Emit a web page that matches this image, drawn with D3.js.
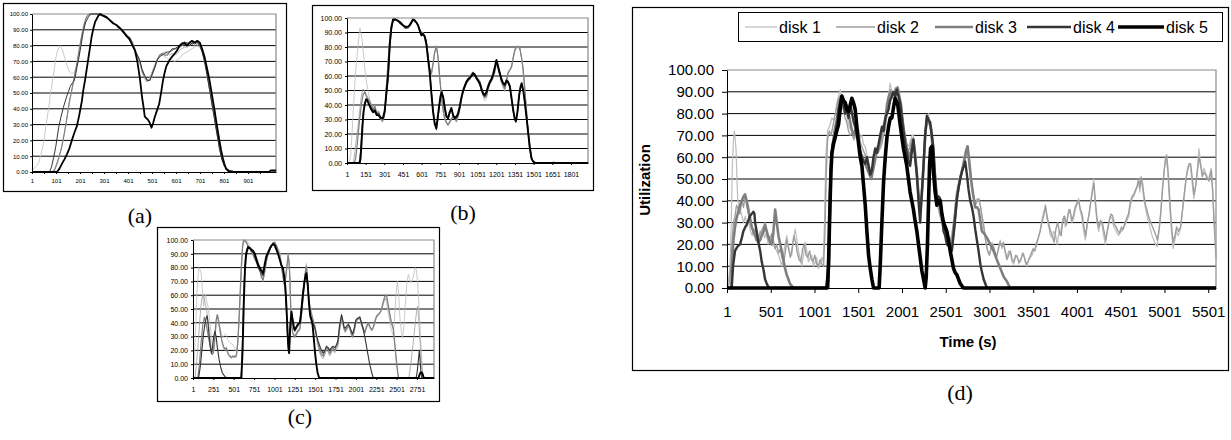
<!DOCTYPE html>
<html>
<head>
<meta charset="utf-8">
<script src="https://cdn.jsdelivr.net/npm/d3@7/dist/d3.min.js"></script>
<style>
  body { margin: 0; background: #fff; }
  svg { display: block; }
</style>
</head>
<body>
<script>
// ---- data: [time (s), utilization %] ----
var diskNames = ["disk 1", "disk 2", "disk 3", "disk 4", "disk 5"];
var yTicks = [0, 10, 20, 30, 40, 50, 60, 70, 80, 90, 100];
var aTicks = [1, 51, 101, 151, 201, 251, 301, 351, 401, 451, 501, 551, 601, 651, 701, 751, 801, 851, 901, 951];
var bTicks = [1, 151, 301, 451, 601, 751, 901, 1051, 1201, 1351, 1501, 1651, 1801];
var cTicks = [1, 251, 501, 751, 1001, 1251, 1501, 1751, 2001, 2251, 2501, 2751];
var dTicks = [1, 501, 1001, 1501, 2001, 2501, 3001, 3501, 4001, 4501, 5001, 5501];

// (a)
var aDisk1 = [[1,1],[8,2],[20,4],[29,6],[40,12],[49,18],[60,30],[70,40],[80,52],[91,62],[100,72],[108,77],[119,80],[126,78],[132,75],[140,71],[146,68],[153,65],[160,63],[167,62],[174,63],[181,64],[188,67],[195,72],[202,79],[209,86],[215,91],[222,95],[229,98],[236,100],[250,100],[265,100],[278,100],[290,99],[300,99],[313,97],[326,96],[340,94],[354,93],[368,90],[381,89],[395,86],[409,84],[420,80],[430,77],[440,74],[450,70],[460,64],[471,60],[480,57],[492,58],[503,62],[513,66],[523,70],[533,73],[543,74],[554,73],[565,72],[575,71],[585,71],[596,70],[606,71],[616,72],[626,74],[636,75],[648,76],[658,77],[668,78],[678,79],[690,80],[700,79],[710,76],[720,70],[730,62],[741,52],[752,42],[762,34],[772,24],[782,15],[792,8],[802,4],[812,2],[824,1],[840,0.5],[860,0],[1018,0]];
var aDisk2 = [[1,0],[80,0],[91,1],[100,4],[112,9],[122,14],[132,21],[143,30],[153,40],[163,49],[174,57],[184,65],[195,74],[205,84],[215,92],[225,97],[236,100],[250,100],[270,100],[290,99],[300,99],[313,98],[326,96],[340,95],[354,92],[368,90],[381,88],[395,87],[409,84],[420,81],[430,77],[440,73],[450,69],[460,63],[471,59],[480,57],[492,59],[503,64],[513,68],[523,71],[533,74],[543,75],[554,76],[565,75],[575,74],[585,75],[596,74],[606,75],[616,77],[626,78],[636,79],[648,79],[658,80],[668,81],[678,80],[690,81],[700,80],[710,77],[720,71],[730,63],[741,54],[752,44],[762,35],[772,25],[782,16],[792,9],[802,4],[812,2],[824,1],[850,0],[1018,0]];
var aDisk3 = [[1,0],[85,0],[95,1],[105,5],[115,10],[125,16],[135,24],[146,34],[156,44],[167,52],[177,60],[188,69],[198,78],[208,86],[218,93],[228,98],[240,100],[270,100],[290,99],[305,98],[320,97],[335,95],[350,93],[365,91],[381,88],[395,87],[409,85],[420,82],[430,78],[440,74],[450,70],[460,64],[471,60],[482,58],[492,58],[503,63],[513,67],[523,71],[533,74],[543,75],[554,74],[565,74],[575,76],[585,77],[596,78],[606,78],[616,79],[626,80],[636,81],[648,80],[658,82],[668,81],[678,82],[690,82],[700,81],[710,77],[720,71],[730,63],[741,53],[752,43],[762,35],[772,25],[782,16],[792,9],[802,5],[812,2],[824,1],[850,0],[1018,0]];
var aDisk4 = [[1,0],[74,0],[82,3],[91,9],[100,16],[112,28],[122,35],[132,41],[140,45],[146,48],[153,51],[160,54],[167,56],[174,57],[181,60],[188,66],[195,71],[205,80],[215,89],[225,95],[236,98],[246,100],[257,100],[280,100],[295,99],[305,98],[318,97],[330,95],[343,94],[354,93],[368,91],[381,89],[395,86],[409,83],[420,80],[430,77],[440,74],[450,71],[460,65],[471,61],[482,58],[492,58],[503,62],[513,66],[523,71],[533,73],[543,74],[554,75],[565,76],[575,76],[585,78],[596,78],[606,79],[616,80],[626,82],[636,81],[648,82],[658,80],[668,82],[678,81],[690,82],[700,80],[710,76],[720,70],[730,62],[741,52],[752,42],[762,33],[772,24],[782,15],[792,8],[802,4],[812,2],[824,1],[850,0],[1018,0]];
var aDisk5 = [[1,0],[105,0],[115,2],[125,5],[136,8],[146,11],[157,15],[167,20],[178,25],[188,29],[198,36],[209,45],[215,52],[222,58],[229,65],[236,72],[243,79],[250,86],[257,91],[264,95],[271,97],[278,99],[285,100],[298,99],[312,98],[326,96],[340,94],[354,93],[368,91],[381,89],[395,86],[409,84],[420,80],[430,77],[440,70],[450,60],[460,47],[467,40],[471,35],[478,34],[485,33],[492,31],[499,28],[506,31],[513,35],[522,39],[531,43],[540,51],[547,58],[554,63],[561,67],[568,69],[575,71],[585,73],[596,75],[606,77],[616,80],[626,81],[637,82],[647,80],[658,82],[668,83],[679,82],[690,83],[700,82],[710,78],[720,73],[730,66],[741,58],[752,48],[762,39],[772,29],[782,20],[789,14],[796,9],[803,5],[810,2],[824,0],[990,0],[995,1],[1005,1],[1018,1]];

// (b)
var bDisk1 = [[1,0],[20,1],[30,5],[40,18],[50,34],[57,44],[65,57],[75,68],[89,80],[97,88],[105,93],[113,90],[122,85],[132,76],[143,67],[153,58],[164,53],[174,48],[183,44],[195,40],[210,36],[225,38],[240,33],[255,35],[270,30],[285,28],[300,31],[310,40],[320,55],[331,68],[345,85],[358,93],[371,98],[390,99],[411,98],[430,97],[451,95],[470,93],[492,93],[505,95],[518,97],[531,99],[545,99],[558,97],[572,95],[586,92],[599,90],[612,89],[626,86],[639,80],[652,72],[666,64],[679,60],[693,68],[706,76],[720,80],[733,72],[746,58],[760,45],[773,36],[786,30],[800,27],[813,26],[826,28],[840,30],[853,32],[866,30],[880,28],[893,31],[907,36],[920,42],[934,48],[947,52],[961,55],[975,56],[990,58],[1001,60],[1015,62],[1028,60],[1041,58],[1055,57],[1068,55],[1082,50],[1095,46],[1108,43],[1122,44],[1135,50],[1149,54],[1162,56],[1175,58],[1189,62],[1202,68],[1215,64],[1229,60],[1242,55],[1256,52],[1269,49],[1283,55],[1296,62],[1310,64],[1323,66],[1336,72],[1350,77],[1363,79],[1376,80],[1390,79],[1403,74],[1416,66],[1430,52],[1443,38],[1457,22],[1470,10],[1484,3],[1497,1],[1510,0.5],[1530,0],[1650,0],[1655,1],[1665,1],[1670,0],[1938,0]];
var bDisk2 = [[1,0],[45,0],[55,2],[65,8],[75,16],[89,25],[100,34],[116,46],[130,51],[143,50],[157,47],[170,45],[183,42],[195,41],[210,38],[225,40],[240,35],[255,36],[270,32],[285,30],[300,33],[310,42],[320,57],[331,70],[345,86],[358,94],[371,98],[390,99],[411,98],[430,96],[451,94],[470,93],[492,94],[505,96],[518,98],[531,99],[545,98],[558,97],[572,95],[586,91],[599,90],[612,90],[626,87],[639,82],[652,73],[666,65],[679,61],[693,68],[706,76],[720,81],[733,73],[746,60],[760,46],[773,36],[786,31],[800,28],[813,27],[826,29],[840,31],[853,33],[866,31],[880,30],[893,33],[907,38],[920,45],[934,50],[947,54],[961,57],[975,58],[990,60],[1001,62],[1015,63],[1028,61],[1041,59],[1055,58],[1068,57],[1082,53],[1095,48],[1108,46],[1122,47],[1135,52],[1149,55],[1162,57],[1175,60],[1189,64],[1202,71],[1215,66],[1229,62],[1242,57],[1256,54],[1269,52],[1283,58],[1296,63],[1310,65],[1323,67],[1336,73],[1350,78],[1363,80],[1376,81],[1390,79],[1403,73],[1416,64],[1430,50],[1443,36],[1457,21],[1470,9],[1484,3],[1497,1],[1520,0],[1938,0]];
var bDisk3 = [[1,0],[60,0],[70,3],[80,10],[89,18],[100,28],[116,40],[130,47],[143,49],[157,46],[170,44],[183,43],[195,40],[210,37],[225,39],[240,34],[255,35],[270,31],[285,29],[300,32],[310,41],[320,56],[331,69],[345,86],[358,94],[371,98],[390,99],[411,98],[430,96],[451,95],[470,93],[492,93],[505,95],[518,97],[531,99],[545,98],[558,97],[572,95],[586,92],[599,89],[612,90],[626,87],[639,83],[652,74],[666,65],[679,62],[693,69],[706,77],[720,80],[733,73],[746,59],[760,46],[773,37],[786,31],[800,28],[813,26],[826,28],[840,30],[853,32],[866,31],[880,29],[893,32],[907,37],[920,44],[934,49],[947,53],[961,56],[975,58],[990,59],[1001,61],[1015,62],[1028,61],[1041,59],[1055,57],[1068,56],[1082,52],[1095,47],[1108,45],[1122,46],[1135,51],[1149,55],[1162,57],[1175,59],[1189,63],[1202,70],[1215,65],[1229,61],[1242,56],[1256,53],[1269,51],[1283,57],[1296,62],[1310,64],[1323,66],[1336,72],[1350,78],[1363,80],[1376,80],[1390,79],[1403,73],[1416,65],[1430,51],[1443,37],[1457,21],[1470,9],[1484,3],[1497,1],[1520,0],[1938,0]];
var bDisk4 = [[1,0],[95,0],[103,2],[112,10],[120,22],[130,33],[140,40],[150,43],[160,44],[170,42],[183,40],[195,38],[210,36],[225,37],[240,34],[255,34],[270,32],[290,30],[304,34],[316,45],[331,58],[345,80],[358,92],[371,98],[390,99],[411,98],[430,96],[451,95],[470,93],[492,94],[505,95],[518,96],[531,99],[545,99],[558,97],[572,95],[586,92],[599,90],[612,88],[626,88],[639,84],[652,74],[666,64],[679,50],[693,37],[706,28],[720,23],[730,29],[741,37],[752,44],[760,48],[773,46],[786,40],[800,33],[813,30],[826,34],[840,37],[853,34],[866,30],[880,31],[893,33],[907,38],[920,44],[934,49],[947,52],[961,55],[975,57],[990,58],[1001,60],[1015,61],[1028,60],[1041,58],[1055,56],[1068,54],[1082,50],[1095,47],[1108,46],[1122,48],[1135,52],[1149,55],[1162,57],[1175,60],[1189,65],[1202,70],[1215,66],[1229,61],[1242,57],[1256,55],[1269,53],[1283,56],[1296,55],[1310,52],[1323,44],[1336,36],[1350,30],[1358,28],[1370,34],[1383,45],[1395,52],[1403,54],[1416,50],[1430,42],[1443,33],[1457,22],[1470,12],[1484,4],[1497,1],[1520,0],[1938,0]];
var bDisk5 = [[1,0],[103,0],[110,3],[118,14],[126,26],[135,36],[145,41],[155,44],[165,43],[175,41],[185,39],[195,37],[210,35],[225,36],[240,33],[255,33],[270,31],[290,31],[304,36],[316,47],[331,60],[345,82],[358,94],[371,99],[390,99],[411,98],[430,97],[451,95],[470,94],[492,94],[505,95],[518,97],[531,99],[545,98],[558,97],[572,95],[586,91],[599,88],[612,89],[626,87],[639,82],[652,72],[666,62],[679,48],[693,35],[706,27],[718,24],[728,30],[741,39],[752,46],[762,49],[775,45],[786,38],[800,32],[813,31],[826,35],[840,38],[853,33],[866,31],[880,32],[893,34],[907,39],[920,45],[934,50],[947,53],[961,56],[975,58],[990,59],[1001,60],[1015,62],[1028,61],[1041,59],[1055,57],[1068,55],[1082,51],[1095,48],[1108,47],[1122,49],[1135,53],[1149,56],[1162,58],[1175,61],[1189,66],[1202,71],[1215,67],[1229,62],[1242,58],[1256,55],[1269,54],[1283,57],[1296,56],[1310,53],[1323,45],[1336,37],[1350,30],[1360,29],[1372,36],[1385,47],[1397,53],[1405,55],[1418,50],[1430,42],[1443,32],[1457,21],[1470,11],[1484,3],[1497,1],[1520,0],[1938,0]];

// (c)
var cDisk1 = [[1,0],[15,10],[34,38],[50,62],[65,75],[75,80],[90,78],[103,75],[115,65],[132,52],[145,58],[157,60],[170,55],[185,52],[205,42],[226,31],[245,22],[259,19],[275,30],[290,43],[300,46],[315,42],[329,38],[345,33],[360,30],[370,29],[385,31],[400,32],[411,31],[425,28],[440,27],[452,26],[470,25],[493,24],[510,22],[534,19],[550,26],[565,38],[575,50],[590,70],[605,88],[616,99],[640,100],[665,100],[680,98],[698,96],[720,93],[740,90],[760,88],[780,87],[800,85],[820,80],[840,75],[861,70],[880,78],[900,85],[923,90],[945,94],[965,96],[985,98],[1005,98],[1025,96],[1045,94],[1065,92],[1085,85],[1107,75],[1120,70],[1135,72],[1150,80],[1169,90],[1180,85],[1190,75],[1200,55],[1210,40],[1225,33],[1240,31],[1251,30],[1270,34],[1290,35],[1313,36],[1330,45],[1350,58],[1370,72],[1385,80],[1394,83],[1410,70],[1425,58],[1440,52],[1456,48],[1470,44],[1497,38],[1520,31],[1540,27],[1558,24],[1580,18],[1599,15],[1620,18],[1640,22],[1660,20],[1680,17],[1700,19],[1720,20],[1743,18],[1760,22],[1780,24],[1800,35],[1825,44],[1840,40],[1855,36],[1870,34],[1890,37],[1910,38],[1927,36],[1945,33],[1960,30],[1980,34],[2000,40],[2020,44],[2050,45],[2070,40],[2090,37],[2110,33],[2130,38],[2153,40],[2175,37],[2195,35],[2215,37],[2235,42],[2255,45],[2275,46],[2300,48],[2316,50],[2335,54],[2355,58],[2378,55],[2395,48],[2415,42],[2435,35],[2460,31],[2475,42],[2490,58],[2509,70],[2525,62],[2540,45],[2560,33],[2575,29],[2590,38],[2610,55],[2630,70],[2645,75],[2660,72],[2675,69],[2686,70],[2700,72],[2715,76],[2730,80],[2745,78],[2760,68],[2775,52],[2790,35],[2805,18],[2820,5],[2830,0],[2960,0]];
var cDisk2 = [[1,0],[25,0],[40,8],[60,22],[80,38],[95,50],[110,58],[125,60],[140,57],[157,52],[170,48],[185,42],[205,33],[220,24],[235,20],[250,18],[265,25],[285,40],[300,45],[315,40],[329,35],[345,30],[360,25],[375,22],[390,20],[411,21],[425,18],[440,16],[455,15],[470,14],[490,15],[510,16],[534,15],[550,24],[565,40],[580,60],[595,80],[610,95],[625,99],[645,100],[665,98],[680,96],[698,95],[720,92],[740,90],[760,87],[780,85],[800,84],[820,80],[840,74],[861,71],[880,77],[900,84],[923,89],[945,93],[965,95],[985,97],[1005,99],[1025,96],[1045,93],[1065,90],[1085,82],[1107,74],[1120,68],[1135,70],[1150,78],[1169,88],[1180,84],[1190,72],[1200,52],[1210,38],[1225,32],[1240,30],[1251,29],[1270,31],[1290,33],[1313,35],[1330,43],[1350,56],[1370,70],[1385,78],[1394,80],[1410,68],[1425,55],[1440,49],[1456,45],[1470,42],[1497,36],[1520,28],[1540,22],[1558,18],[1580,15],[1599,14],[1620,17],[1640,20],[1660,19],[1680,16],[1700,18],[1720,21],[1743,19],[1760,21],[1780,22],[1800,33],[1825,43],[1840,39],[1855,35],[1870,33],[1890,35],[1910,37],[1927,35],[1945,31],[1960,29],[1980,33],[2000,39],[2020,42],[2050,43],[2070,38],[2090,35],[2110,32],[2130,36],[2153,39],[2175,36],[2195,34],[2215,36],[2235,40],[2255,44],[2275,45],[2300,47],[2316,49],[2335,53],[2355,57],[2378,58],[2395,52],[2415,46],[2435,40],[2460,35],[2480,22],[2500,10],[2515,3],[2525,0],[2650,0],[2670,8],[2690,18],[2710,28],[2730,40],[2750,50],[2760,52],[2770,45],[2785,30],[2800,15],[2815,5],[2825,0],[2960,0]];
var cDisk3 = [[1,0],[60,0],[80,10],[100,25],[120,38],[140,44],[160,40],[175,35],[190,30],[205,25],[220,20],[235,17],[250,18],[265,28],[285,42],[300,46],[315,42],[329,36],[345,30],[360,26],[375,23],[390,21],[411,22],[425,19],[440,17],[455,16],[470,15],[490,16],[510,15],[534,17],[550,25],[565,42],[580,62],[595,82],[610,96],[625,100],[645,99],[665,97],[680,95],[698,94],[720,91],[740,89],[760,86],[780,84],[800,83],[820,79],[840,73],[861,71],[880,76],[900,84],[923,90],[945,94],[965,96],[985,97],[1005,98],[1025,96],[1045,92],[1065,89],[1085,81],[1107,73],[1120,68],[1135,71],[1150,79],[1169,89],[1180,84],[1190,73],[1200,53],[1210,39],[1225,33],[1240,31],[1251,30],[1270,32],[1290,34],[1313,36],[1330,44],[1350,57],[1370,71],[1385,79],[1394,81],[1410,69],[1425,56],[1440,50],[1456,46],[1470,43],[1497,38],[1520,30],[1540,24],[1558,20],[1580,17],[1599,16],[1620,19],[1640,22],[1660,21],[1680,18],[1700,20],[1720,22],[1743,20],[1760,23],[1780,25],[1800,36],[1825,45],[1840,41],[1855,36],[1870,34],[1890,36],[1910,38],[1927,36],[1945,32],[1960,30],[1980,35],[2000,41],[2020,43],[2050,44],[2070,39],[2090,36],[2110,33],[2130,37],[2153,40],[2175,37],[2195,35],[2215,37],[2235,41],[2255,45],[2275,46],[2300,48],[2316,50],[2335,55],[2355,59],[2378,60],[2395,54],[2415,47],[2435,41],[2460,36],[2480,24],[2500,12],[2515,4],[2525,0],[2960,0]];
var cDisk4 = [[1,0],[70,0],[90,8],[110,20],[130,32],[150,40],[165,44],[175,45],[185,40],[200,30],[215,22],[226,18],[240,22],[255,30],[270,34],[285,30],[300,22],[320,14],[340,8],[360,4],[380,2],[411,0],[590,0],[600,10],[615,40],[630,70],[645,88],[660,93],[677,95],[700,94],[720,92],[740,91],[760,88],[780,84],[800,80],[820,78],[840,76],[861,74],[880,80],[900,87],[923,90],[945,93],[965,96],[985,98],[1005,97],[1025,94],[1045,90],[1065,86],[1085,82],[1107,78],[1120,72],[1135,62],[1150,45],[1165,25],[1181,18],[1195,35],[1210,46],[1225,40],[1240,35],[1251,34],[1270,36],[1290,38],[1313,40],[1330,50],[1350,62],[1370,70],[1385,74],[1394,75],[1410,68],[1425,55],[1440,46],[1456,42],[1470,40],[1497,36],[1520,30],[1540,26],[1558,23],[1580,20],[1599,18],[1620,20],[1640,23],[1660,22],[1680,20],[1700,22],[1720,23],[1743,22],[1760,24],[1780,27],[1800,38],[1825,46],[1840,42],[1855,37],[1870,36],[1890,38],[1910,39],[1927,37],[1945,34],[1960,32],[1980,36],[2000,42],[2020,43],[2050,44],[2080,38],[2110,30],[2140,20],[2170,10],[2195,4],[2214,0],[2740,0],[2755,5],[2770,14],[2780,20],[2790,12],[2800,4],[2810,0],[2960,0]];
var cDisk5 = [[1,0],[595,0],[610,20],[625,55],[640,80],[655,90],[677,95],[700,94],[720,93],[740,92],[760,90],[780,86],[800,82],[820,80],[840,78],[861,76],[880,82],[900,88],[923,91],[945,94],[965,96],[985,97],[1005,96],[1025,93],[1045,90],[1065,86],[1085,82],[1107,79],[1120,74],[1135,66],[1150,50],[1165,30],[1175,20],[1181,18],[1195,38],[1210,48],[1225,42],[1240,37],[1251,35],[1270,37],[1290,39],[1313,40],[1330,48],[1350,60],[1370,70],[1385,75],[1394,76],[1410,67],[1425,54],[1440,45],[1456,42],[1470,38],[1485,28],[1500,18],[1515,10],[1530,4],[1550,0],[2770,0],[2780,2],[2795,4],[2810,4],[2825,2],[2835,0],[2960,0]];

// (d)
var dDisk1 = [[1,1],[20,4],[36,10],[50,30],[62,56],[75,68],[85,72],[95,68],[104,64],[115,50],[123,41],[135,38],[150,36],[165,34],[177,32],[190,30],[210,33],[230,28],[250,31],[270,26],[290,24],[310,27],[330,22],[350,25],[370,20],[390,26],[410,28],[430,23],[450,25],[470,20],[490,24],[513,23],[540,19],[570,17],[600,14],[627,10],[650,16],[665,20],[684,24],[700,20],[720,16],[741,15],[760,22],[780,27],[800,22],[818,17],[835,14],[856,10],[875,15],[894,21],[912,17],[932,12],[950,14],[970,15],[990,10],[1008,12],[1025,14],[1046,9],[1065,11],[1085,14],[1100,12],[1115,30],[1130,60],[1150,72],[1180,75],[1200,78],[1218,77],[1240,80],[1257,85],[1275,88],[1295,91],[1315,87],[1333,85],[1350,80],[1371,79],[1390,75],[1410,73],[1428,72],[1450,70],[1470,74],[1490,72],[1505,73],[1525,69],[1543,70],[1560,66],[1581,65],[1600,61],[1619,58],[1640,55],[1657,52],[1675,56],[1695,62],[1715,65],[1733,64],[1752,66],[1772,68],[1790,72],[1810,75],[1830,82],[1848,88],[1865,94],[1885,90],[1903,88],[1925,92],[1945,91],[1961,92],[1980,86],[2000,81],[2018,76],[2037,70],[2060,66],[2080,65],[2094,67],[2115,70],[2132,70],[2150,62],[2171,52],[2190,44],[2209,37],[2228,45],[2247,60],[2265,72],[2285,78],[2305,80],[2323,73],[2340,65],[2361,56],[2380,48],[2400,41],[2420,36],[2440,33],[2457,30],[2480,27],[2500,24],[2514,23],[2540,20],[2571,22],[2600,32],[2621,44],[2645,48],[2667,52],[2690,56],[2710,60],[2724,63],[2740,65],[2751,62],[2770,55],[2790,48],[2810,42],[2838,38],[2857,41],[2876,40],[2896,38],[2915,33],[2934,29],[2955,22],[2972,18],[2990,16],[3010,17],[3030,21],[3048,19],[3068,16],[3086,15],[3105,19],[3125,22],[3145,18],[3163,20],[3182,16],[3201,14],[3220,17],[3239,16],[3258,12],[3277,11],[3296,14],[3315,15],[3335,11],[3353,12],[3372,15],[3391,16],[3410,12],[3430,10],[3450,13],[3468,14],[3487,15],[3506,17],[3525,18],[3544,20],[3563,24],[3582,27],[3600,31],[3620,35],[3640,37],[3660,31],[3678,28],[3697,24],[3716,23],[3735,26],[3754,25],[3775,20],[3796,26],[3810,24],[3830,30],[3849,33],[3868,28],[3887,30],[3906,36],[3925,35],[3944,30],[3963,32],[3982,36],[4001,38],[4020,41],[4040,35],[4058,32],[4078,26],[4097,22],[4116,28],[4135,33],[4154,38],[4173,44],[4192,50],[4211,38],[4230,30],[4249,26],[4268,30],[4287,29],[4306,24],[4325,20],[4345,25],[4364,29],[4383,33],[4402,32],[4421,28],[4440,27],[4459,25],[4478,24],[4497,27],[4516,26],[4535,28],[4554,29],[4573,31],[4593,33],[4612,38],[4631,41],[4650,42],[4669,44],[4688,46],[4707,49],[4720,44],[4734,50],[4750,46],[4764,41],[4783,37],[4802,33],[4821,30],[4841,27],[4860,24],[4879,22],[4898,20],[4917,19],[4936,25],[4955,33],[4975,44],[4993,52],[5010,58],[5020,60],[5039,53],[5055,42],[5070,32],[5085,24],[5100,18],[5120,22],[5138,26],[5160,24],[5184,27],[5203,34],[5222,41],[5241,48],[5260,53],[5280,56],[5298,56],[5318,48],[5337,41],[5356,46],[5375,53],[5394,64],[5413,58],[5432,52],[5451,55],[5470,53],[5490,51],[5508,50],[5522,53],[5535,55],[5550,46],[5566,33],[5580,24],[5590,17]];
var dDisk2 = [[1,0],[25,2],[45,10],[60,22],[75,30],[93,33],[110,38],[131,36],[150,34],[169,40],[190,37],[207,42],[226,38],[245,34],[265,30],[284,28],[303,25],[322,27],[340,23],[360,22],[380,26],[398,25],[420,28],[436,30],[455,26],[474,24],[495,22],[513,25],[535,21],[551,18],[570,20],[589,16],[610,18],[627,14],[650,12],[670,17],[684,22],[705,18],[725,14],[745,18],[765,24],[785,21],[805,16],[825,13],[845,12],[865,18],[885,20],[905,15],[925,14],[945,17],[965,13],[985,12],[1005,15],[1025,11],[1045,10],[1065,13],[1085,11],[1105,10],[1120,25],[1135,52],[1150,68],[1170,72],[1190,70],[1210,74],[1230,78],[1250,82],[1270,86],[1290,88],[1310,84],[1330,82],[1350,78],[1370,76],[1390,72],[1410,70],[1430,71],[1450,68],[1470,70],[1490,68],[1510,70],[1530,66],[1550,64],[1570,62],[1590,60],[1610,57],[1630,54],[1650,52],[1670,55],[1690,60],[1710,63],[1730,62],[1750,64],[1770,66],[1790,70],[1810,73],[1830,80],[1850,86],[1870,91],[1890,88],[1910,86],[1930,89],[1950,90],[1970,87],[1990,82],[2010,77],[2030,71],[2050,67],[2070,63],[2090,64],[2110,68],[2130,69],[2150,61],[2170,50],[2190,42],[2210,36],[2230,42],[2250,58],[2270,70],[2290,76],[2310,78],[2330,72],[2350,62],[2370,52],[2390,44],[2410,38],[2430,34],[2450,31],[2470,28],[2490,25],[2510,22],[2540,21],[2570,24],[2600,34],[2620,42],[2645,46],[2670,50],[2690,54],[2710,58],[2730,61],[2750,64],[2770,57],[2790,50],[2810,44],[2840,38],[2860,40],[2880,41],[2900,37],[2920,32],[2940,27],[2960,21],[2980,17],[3000,15],[3020,18],[3040,20],[3060,17],[3080,14],[3100,17],[3120,21],[3140,19],[3160,21],[3180,17],[3200,13],[3220,15],[3240,17],[3260,13],[3280,12],[3300,15],[3320,14],[3340,12],[3360,13],[3380,16],[3400,14],[3420,11],[3440,12],[3460,14],[3480,16],[3500,18],[3520,17],[3540,21],[3560,23],[3580,26],[3600,30],[3620,33],[3640,38],[3660,33],[3680,29],[3700,26],[3720,24],[3740,21],[3760,27],[3780,30],[3800,26],[3820,24],[3840,31],[3860,33],[3880,29],[3900,34],[3920,36],[3940,31],[3960,33],[3980,37],[4000,39],[4020,40],[4040,36],[4060,34],[4080,28],[4100,24],[4120,30],[4140,34],[4160,40],[4180,45],[4195,48],[4210,40],[4230,32],[4250,28],[4270,31],[4290,30],[4310,26],[4330,22],[4350,27],[4370,31],[4390,34],[4410,33],[4430,29],[4450,28],[4470,26],[4490,25],[4510,28],[4530,27],[4550,30],[4570,32],[4590,34],[4610,39],[4630,42],[4650,43],[4670,45],[4690,47],[4705,50],[4720,46],[4735,51],[4750,48],[4765,43],[4785,38],[4805,35],[4825,32],[4845,30],[4865,28],[4885,26],[4905,24],[4920,22],[4940,27],[4960,35],[4980,46],[4995,53],[5012,59],[5025,61],[5040,55],[5055,45],[5070,35],[5085,27],[5100,21],[5120,24],[5140,28],[5160,26],[5185,28],[5205,35],[5225,42],[5245,49],[5262,54],[5282,57],[5300,57],[5320,50],[5338,43],[5358,47],[5378,54],[5396,60],[5415,56],[5434,51],[5452,53],[5472,52],[5490,50],[5510,49],[5525,52],[5537,54],[5552,44],[5568,30],[5582,20],[5590,14]];
var dDisk3 = [[1,0],[50,0],[60,12],[75,22],[93,28],[110,32],[131,35],[150,38],[169,40],[190,42],[207,43],[226,40],[245,36],[265,32],[284,28],[303,26],[322,24],[340,22],[360,21],[380,22],[398,24],[420,26],[436,29],[455,26],[474,23],[495,21],[513,20],[530,25],[551,36],[570,30],[589,24],[610,20],[627,17],[650,12],[665,9],[684,6],[703,4],[720,2],[741,1],[760,0],[1145,0],[1160,15],[1175,40],[1190,58],[1210,66],[1230,72],[1250,76],[1270,80],[1290,86],[1310,88],[1330,85],[1350,82],[1370,84],[1390,80],[1410,76],[1430,72],[1450,70],[1470,73],[1490,70],[1510,66],[1530,62],[1550,60],[1570,58],[1590,56],[1610,54],[1630,52],[1650,50],[1670,54],[1690,58],[1710,62],[1730,64],[1750,67],[1770,72],[1790,74],[1810,77],[1830,84],[1850,88],[1870,90],[1890,88],[1910,89],[1930,91],[1950,92],[1970,88],[1990,84],[2010,76],[2030,70],[2050,65],[2070,62],[2090,60],[2110,64],[2130,68],[2150,62],[2170,53],[2190,43],[2210,35],[2230,44],[2250,58],[2270,72],[2290,78],[2310,76],[2330,74],[2350,67],[2370,56],[2390,46],[2410,40],[2430,41],[2450,36],[2470,30],[2490,26],[2510,22],[2540,19],[2570,18],[2600,30],[2629,41],[2650,47],[2670,51],[2690,54],[2710,58],[2730,62],[2751,65],[2770,58],[2790,50],[2810,44],[2838,37],[2860,37],[2876,36],[2900,30],[2915,26],[2940,25],[2972,23],[3010,20],[3048,17],[3085,13],[3125,9],[3165,5],[3201,3],[3225,1],[3239,0],[5590,0]];
var dDisk4 = [[1,0],[55,0],[70,10],[93,17],[120,19],[150,20],[170,23],[188,26],[210,28],[226,29],[245,31],[265,33],[284,34],[303,35],[315,34],[322,30],[340,26],[360,21],[380,17],[398,12],[420,8],[436,4],[455,2],[474,0.5],[490,0],[1160,0],[1175,30],[1190,55],[1210,66],[1237,70],[1260,76],[1276,82],[1300,86],[1314,88],[1335,84],[1352,80],[1371,82],[1390,78],[1409,85],[1430,80],[1450,76],[1466,74],[1485,70],[1505,67],[1525,62],[1543,60],[1560,58],[1581,57],[1600,60],[1619,56],[1640,52],[1657,54],[1675,60],[1695,64],[1715,62],[1733,66],[1752,70],[1772,74],[1790,72],[1810,78],[1830,80],[1848,82],[1865,86],[1885,88],[1903,90],[1925,88],[1942,91],[1960,88],[1980,85],[2000,78],[2018,72],[2037,66],[2056,62],[2075,58],[2094,56],[2115,63],[2132,68],[2150,60],[2171,52],[2190,40],[2209,30],[2228,44],[2247,56],[2265,70],[2285,79],[2305,77],[2323,76],[2342,70],[2361,64],[2380,50],[2400,38],[2420,42],[2438,41],[2457,34],[2476,26],[2495,24],[2514,20],[2540,19],[2571,17],[2600,28],[2629,41],[2648,46],[2667,50],[2690,54],[2710,56],[2724,58],[2743,52],[2762,45],[2781,40],[2800,37],[2819,33],[2838,27],[2857,22],[2876,17],[2900,10],[2934,4],[2972,0],[5590,0]];
var dDisk5 = [[1,0],[1142,0],[1152,4],[1161,10],[1170,25],[1180,41],[1190,54],[1200,62],[1218,66],[1237,69],[1255,72],[1276,75],[1295,82],[1314,88],[1333,86],[1352,85],[1370,82],[1390,81],[1410,84],[1428,87],[1447,85],[1466,82],[1485,74],[1505,66],[1524,60],[1543,56],[1562,47],[1581,38],[1600,26],[1619,15],[1638,9],[1657,4],[1676,0],[1740,0],[1752,10],[1771,30],[1791,49],[1810,60],[1829,69],[1848,74],[1867,78],[1885,78],[1905,83],[1923,87],[1935,86],[1949,85],[1965,80],[1980,75],[2000,69],[2018,64],[2037,60],[2056,56],[2075,50],[2094,44],[2113,40],[2132,36],[2150,31],[2171,26],[2190,20],[2209,14],[2228,8],[2247,4],[2266,0],[2278,5],[2292,20],[2305,40],[2316,56],[2328,64],[2342,65],[2352,60],[2361,53],[2380,44],[2400,38],[2420,40],[2438,40],[2457,34],[2476,30],[2495,28],[2514,26],[2533,22],[2552,17],[2571,13],[2590,9],[2610,7],[2629,6],[2648,4],[2667,2],[2685,1],[2705,0],[5590,0]];

// ---- drawing ----
var width = 1231, height = 440;
var sans = "'Liberation Sans', Arial, sans-serif";
var serif = "'Liberation Serif', 'Times New Roman', serif";
var colors = ["#bdbdbd", "#9e9e9e", "#7f7f7f", "#353535", "#000000"];

var svg = d3.select("body").append("svg")
    .attr("width", width)
    .attr("height", height);

svg.append("rect").attr("width", width).attr("height", height).attr("fill", "#fff");

var panels = [
  {box: [3, 3, 286, 191], plot: [32, 14, 276, 172], xMax: 1018, ticks: aTicks, labelStep: 100,
   font: 6, tick: 2, xPad: 5, yPad: 2, series: [aDisk1, aDisk2, aDisk3, aDisk4, aDisk5],
   widths: [0.8, 0.8, 1.1, 1.0, 1.8], caption: "(a)", cap: [140, 223]},
  {box: [312, 5, 593, 190], plot: [347, 18, 588, 163], xMax: 1938, ticks: bTicks, labelStep: 150,
   font: 7, tick: 2, xPad: 7, yPad: 3, series: [bDisk1, bDisk2, bDisk3, bDisk4, bDisk5],
   widths: [0.8, 0.8, 1.2, 1.1, 1.9], caption: "(b)", cap: [463, 220]},
  {box: [157, 227, 439, 401], plot: [193, 240, 434, 378], xMax: 2960, ticks: cTicks, labelStep: 250,
   font: 7, tick: 2, xPad: 7, yPad: 3, series: [cDisk1, cDisk2, cDisk3, cDisk4, cDisk5],
   widths: [0.8, 0.8, 1.2, 1.1, 1.9], caption: "(c)", cap: [300, 424]},
  {box: [632, 7, 1228, 370], plot: [727, 70, 1216, 288], xMax: 5590, ticks: dTicks, labelStep: 500,
   font: 15, tick: 5, xPad: 13, yPad: 8, series: [dDisk1, dDisk2, dDisk3, dDisk4, dDisk5],
   widths: [1.2, 1.4, 2.6, 2.4, 3.6], caption: "(d)", cap: [960, 400]}
];

panels.forEach(function(p) {
  var x0 = p.plot[0], y0 = p.plot[1], x1 = p.plot[2], y1 = p.plot[3];

  // outer frame
  svg.append("rect")
      .attr("x", p.box[0] + 0.5).attr("y", p.box[1] + 0.5)
      .attr("width", p.box[2] - p.box[0]).attr("height", p.box[3] - p.box[1])
      .attr("fill", "#fff").attr("stroke", "#000").attr("stroke-width", 1.2);

  var x = d3.scaleLinear().domain([1, p.xMax]).range([x0, x1]);
  var y = d3.scaleLinear().domain([0, 100]).range([y1, y0]);

  var g = svg.append("g");

  // gridlines
  g.selectAll(".grid")
      .data(yTicks.filter(function(v) { return v > 0 && v < 100; }))
    .enter().append("line")
      .attr("x1", x0).attr("x2", x1)
      .attr("y1", function(v) { return y(v); })
      .attr("y2", function(v) { return y(v); })
      .attr("stroke", "#000").attr("stroke-width", 1);

  // plot area top / right border
  g.append("path")
      .attr("d", "M" + x0 + "," + y(100) + "H" + x1 + "V" + y(0))
      .attr("fill", "none").attr("stroke", "#8a8a8a").attr("stroke-width", 1.2);

  // series
  var line = d3.line()
      .x(function(d) { return x(d[0]); })
      .y(function(d) { return y(d[1]); });

  p.series.forEach(function(s, i) {
    g.append("path")
        .datum(s)
        .attr("fill", "none")
        .attr("stroke", colors[i])
        .attr("stroke-width", p.widths[i])
        .attr("stroke-linejoin", "round")
        .attr("d", line);
  });

  // y axis
  var yAxis = g.append("g")
      .attr("transform", "translate(" + x0 + ",0)")
      .call(d3.axisLeft(y).tickValues(yTicks).tickFormat(d3.format(".2f"))
        .tickSize(p.tick).tickPadding(p.yPad).tickSizeOuter(0));
  yAxis.selectAll("text").attr("font-family", sans).attr("font-size", p.font).attr("fill", "#000");

  // x axis
  var xAxis = g.append("g")
      .attr("transform", "translate(0," + y1 + ")")
      .call(d3.axisBottom(x).tickValues(p.ticks)
        .tickFormat(function(d) { return (d - 1) % p.labelStep === 0 ? d : ""; })
        .tickSize(p.tick).tickPadding(p.xPad).tickSizeOuter(0));
  xAxis.selectAll("text").attr("font-family", sans).attr("font-size", p.font).attr("fill", "#000");
  g.selectAll(".domain").attr("stroke", "#000");
  g.selectAll(".tick line").attr("stroke", "#000");

  // caption
  svg.append("text")
      .attr("x", p.cap[0]).attr("y", p.cap[1])
      .attr("text-anchor", "middle")
      .attr("font-family", serif).attr("font-size", 22)
      .text(p.caption);
});

// axis titles of (d)
svg.append("text")
    .attr("transform", "translate(650,180) rotate(-90)")
    .attr("text-anchor", "middle")
    .attr("font-family", sans).attr("font-size", 15).attr("font-weight", "bold")
    .text("Utilization");

svg.append("text")
    .attr("x", 968).attr("y", 347)
    .attr("text-anchor", "middle")
    .attr("font-family", sans).attr("font-size", 15).attr("font-weight", "bold")
    .text("Time (s)");

// legend of (d)
var legend = svg.append("g");
legend.append("rect")
    .attr("x", 738.5).attr("y", 12.5).attr("width", 484).attr("height", 29)
    .attr("fill", "#fff").attr("stroke", "#000").attr("stroke-width", 1);

var legendX = [745, 836, 935, 1027, 1118];
var legendLen = [32, 39, 38, 44, 46];
var legendW = [1.2, 1.4, 2.6, 2.4, 3.6];
diskNames.forEach(function(name, i) {
  legend.append("line")
      .attr("x1", legendX[i]).attr("x2", legendX[i] + legendLen[i])
      .attr("y1", 27).attr("y2", 27)
      .attr("stroke", colors[i]).attr("stroke-width", legendW[i]);
  legend.append("text")
      .attr("x", legendX[i] + legendLen[i] + 2).attr("y", 32.5)
      .attr("font-family", sans).attr("font-size", 16)
      .text(name);
});
</script>
</body>
</html>
